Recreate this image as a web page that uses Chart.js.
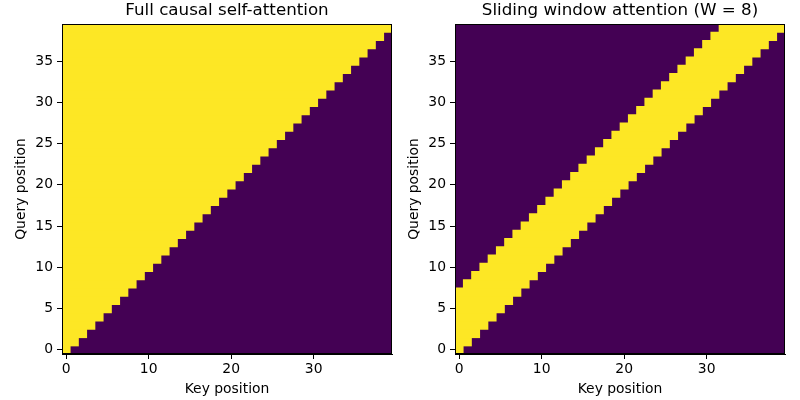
<!DOCTYPE html>
<html>
<head>
<meta charset="utf-8">
<script src="https://cdn.jsdelivr.net/npm/chart.js@4.4.0/dist/chart.umd.min.js"></script>
<style>
  body { margin: 0; background: #fff; }
  .panel { position: absolute; top: 0; width: 400px; height: 400px; }
</style>
</head>
<body>
<canvas id="causalChart" class="panel" width="400" height="400" style="left:0"></canvas>
<canvas id="windowChart" class="panel" width="400" height="400" style="left:393px"></canvas>
<script>
// query rows (y) and the first/last key (x) that each row may attend to
const queryPositions = [0, 1, 2, 3, 4, 5, 6, 7, 8, 9, 10, 11, 12, 13, 14, 15, 16, 17, 18, 19,
  20, 21, 22, 23, 24, 25, 26, 27, 28, 29, 30, 31, 32, 33, 34, 35, 36, 37, 38, 39]
const causalFirstKey = [0, 0, 0, 0, 0, 0, 0, 0, 0, 0, 0, 0, 0, 0, 0, 0, 0, 0, 0, 0,
  0, 0, 0, 0, 0, 0, 0, 0, 0, 0, 0, 0, 0, 0, 0, 0, 0, 0, 0, 0]
const causalLastKey = [0, 1, 2, 3, 4, 5, 6, 7, 8, 9, 10, 11, 12, 13, 14, 15, 16, 17, 18, 19,
  20, 21, 22, 23, 24, 25, 26, 27, 28, 29, 30, 31, 32, 33, 34, 35, 36, 37, 38, 39]
const windowFirstKey = [0, 0, 0, 0, 0, 0, 0, 0, 1, 2, 3, 4, 5, 6, 7, 8, 9, 10, 11, 12,
  13, 14, 15, 16, 17, 18, 19, 20, 21, 22, 23, 24, 25, 26, 27, 28, 29, 30, 31, 32]
const windowLastKey = [0, 1, 2, 3, 4, 5, 6, 7, 8, 9, 10, 11, 12, 13, 14, 15, 16, 17, 18, 19,
  20, 21, 22, 23, 24, 25, 26, 27, 28, 29, 30, 31, 32, 33, 34, 35, 36, 37, 38, 39]

const keyTicks = [0, 10, 20, 30]
const queryTicks = [0, 5, 10, 15, 20, 25, 30, 35]
const nKeys = 40
const nQueries = 40

const YELLOW = "#fde725"
const PURPLE = "#440154"
const FONT = "'DejaVu Sans', sans-serif"

// purple background, frame and panel title
const heatmapFrame = {
  id: "heatmapFrame",
  beforeDatasetsDraw(chart) {
    const { ctx, chartArea: a } = chart
    ctx.save()
    ctx.fillStyle = PURPLE
    ctx.fillRect(a.left, a.top, a.right - a.left, a.bottom - a.top)
    ctx.restore()
  },
  afterDraw(chart, args, opts) {
    const { ctx, chartArea: a } = chart
    ctx.save()
    ctx.strokeStyle = "#000"
    ctx.lineWidth = 1
    ctx.strokeRect(Math.round(a.left) + 0.5, Math.round(a.top) + 0.5,
      Math.round(a.right - a.left) - 1, Math.round(a.bottom - a.top) - 1)
    ctx.fillStyle = "#000"
    ctx.font = "16.7px " + FONT
    ctx.textAlign = "center"
    ctx.textBaseline = "alphabetic"
    ctx.fillText(opts.text, (a.left + a.right) / 2, 15)
    ctx.restore()
  },
}

function makeMask(canvasId, title, firstKey, lastKey) {
  const rows = queryPositions.map((q, i) => ({ y: q, x: [firstKey[i] - 0.5, lastKey[i] + 0.5] }))
  const tickFont = { family: FONT, size: 13.9 }
  new Chart(document.getElementById(canvasId), {
    type: "bar",
    data: {
      datasets: [
        {
          data: rows,
          backgroundColor: YELLOW,
          borderWidth: 0,
          barThickness: 8.8,
          grouped: false,
        },
      ],
    },
    options: {
      indexAxis: "y",
      responsive: false,
      animation: false,
      devicePixelRatio: 1,
      layout: { padding: { left: 0, right: 8, top: 24, bottom: 0 } },
      plugins: {
        legend: { display: false },
        tooltip: { enabled: false },
        heatmapFrame: { text: title },
      },
      scales: {
        x: {
          type: "linear",
          min: -0.5,
          max: nKeys - 0.5,
          offset: false,
          afterBuildTicks: (s) => { s.ticks = keyTicks.map((v) => ({ value: v })) },
          afterFit: (s) => { s.height = 46 },
          ticks: { color: "#000", font: tickFont, padding: 2, maxRotation: 0 },
          grid: { offset: false, drawOnChartArea: false, drawTicks: true, tickLength: 5, color: "#000" },
          border: { display: true, color: "#000" },
          title: { display: true, text: "Key position", color: "#000", font: tickFont, padding: { top: 0, bottom: 2 } },
        },
        y: {
          type: "linear",
          min: -0.5,
          max: nQueries - 0.5,
          offset: false,
          afterBuildTicks: (s) => { s.ticks = queryTicks.map((v) => ({ value: v })) },
          afterFit: (s) => { s.width = 62 },
          ticks: { color: "#000", font: tickFont, padding: 4 },
          grid: { offset: false, drawOnChartArea: false, drawTicks: true, tickLength: 5, color: "#000" },
          border: { display: true, color: "#000" },
          title: { display: true, text: "Query position", color: "#000", font: tickFont, padding: { top: 13, bottom: 0 } },
        },
      },
    },
    plugins: [heatmapFrame],
  })
}

makeMask("causalChart", "Full causal self-attention", causalFirstKey, causalLastKey)
makeMask("windowChart", "Sliding window attention (W = 8)", windowFirstKey, windowLastKey)
</script>
</body>
</html>
